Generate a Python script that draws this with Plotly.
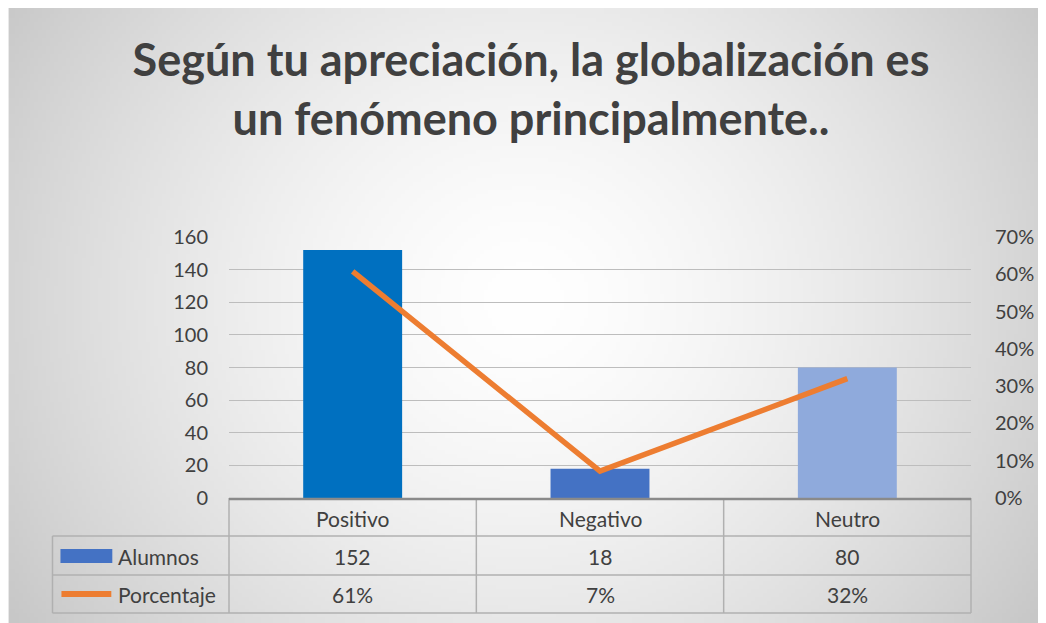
import base64, struct, zlib
import numpy as np
import plotly.graph_objects as go

# ---------------- data ----------------
categories = ["Positivo", "Negativo", "Neutro"]
alumnos = [152, 18, 80]
porcentaje = [0.608, 0.072, 0.32]
porcentaje_labels = ["61%", "7%", "32%"]
bar_colors = ["#0070C0", "#4472C4", "#8FAADC"]
title_text = "Según tu apreciación, la globalización es<br>un fenómeno principalmente.."
series_names = ["Alumnos", "Porcentaje"]

SW, SH = 1046, 623          # screen size
OFF = 8                     # page body margin
W, H = SW - OFF, SH - OFF
PL, PR, PT, PB = 229, 973, 237, 498   # plot area (screen pixels)
pw, ph = PR - PL, PB - PT

def px(x):
    return (x - PL) / pw

def py(y):
    return (PB - y) / ph

# ---------------- background radial gradient (png) ----------------
def make_png(arr):
    h, w = arr.shape
    raw = b"".join(b"\x00" + arr[i].tobytes() for i in range(h))
    def chunk(t, d):
        c = struct.pack(">I", len(d)) + t + d
        return c + struct.pack(">I", zlib.crc32(t + d) & 0xFFFFFFFF)
    png = b"\x89PNG\r\n\x1a\n"
    png += chunk(b"IHDR", struct.pack(">IIBBBBB", w, h, 8, 0, 0, 0, 0))
    png += chunk(b"IDAT", zlib.compress(raw, 9))
    png += chunk(b"IEND", b"")
    return "data:image/png;base64," + base64.b64encode(png).decode()

gw, gh = 260, 154
bx0, by0 = OFF, OFF
gx = bx0 + (np.arange(gw) + 0.5) * (SW - bx0) / gw
gy = by0 + (np.arange(gh) + 0.5) * (SH - by0) / gh
XX, YY = np.meshgrid(gx, gy)
d = np.sqrt(((XX - 525) / 614) ** 2 + ((YY - 300) / 570) ** 2)
val = 255 - 55 * np.clip(d, 0, 1.2) ** 1.5
grad = make_png(np.clip(val, 0, 255).astype(np.uint8))

fig = go.Figure()
fig.add_trace(go.Bar(x=categories, y=alumnos, marker=dict(color=bar_colors, line=dict(width=0)),
                     width=0.4, name=series_names[0], hoverinfo="skip"))
fig.add_trace(go.Scatter(x=categories, y=porcentaje, yaxis="y2", mode="lines",
                         line=dict(color="#ED7D31", width=5.5), name=series_names[1],
                         hoverinfo="skip"))

shapes = []
grid_col = "#BDBDBD"
tab_col = "#B0B0B0"
# table lines
for yy, x0 in [(536, 52), (575, 52), (613, 52)]:
    shapes.append(dict(type="line", xref="paper", yref="paper", x0=px(x0), x1=px(PR),
                       y0=py(yy), y1=py(yy), line=dict(color=tab_col, width=1.5), layer="above"))
for xx in [PL, PL + pw / 3, PL + 2 * pw / 3, PR]:
    shapes.append(dict(type="line", xref="paper", yref="paper", x0=px(xx), x1=px(xx),
                       y0=py(PB), y1=py(613), line=dict(color=tab_col, width=1.5), layer="above"))
shapes.append(dict(type="line", xref="paper", yref="paper", x0=px(52), x1=px(52),
                   y0=py(536), y1=py(613), line=dict(color=tab_col, width=1.5), layer="above"))
# axis / table top line
shapes.append(dict(type="line", xref="paper", yref="paper", x0=0, x1=1, y0=py(499), y1=py(499),
                   line=dict(color="#8A8A8A", width=2.5), layer="above"))
# legend keys
shapes.append(dict(type="rect", xref="paper", yref="paper", x0=px(60), x1=px(112),
                   y0=py(549), y1=py(563), fillcolor="#4472C4", line=dict(width=0), layer="above"))
shapes.append(dict(type="line", xref="paper", yref="paper", x0=px(61), x1=px(111),
                   y0=py(594), y1=py(594), line=dict(color="#ED7D31", width=6), layer="above"))

font_fam = "Lato, 'Open Sans', sans-serif"
txt_col = "#404040"
tfont = dict(size=20, color=txt_col, family=font_fam)
cfont = dict(size=21, color=txt_col, family=font_fam)
ann = []
for i, c in enumerate(categories):
    for yy, t in [(518, c), (556, str(alumnos[i])), (594, porcentaje_labels[i])]:
        ann.append(dict(x=c, xref="x", y=py(yy), yref="paper", text=t, showarrow=False,
                        xanchor="center", yanchor="middle", font=cfont))
for yy, t in [(556, series_names[0]), (594, series_names[1])]:
    ann.append(dict(x=px(116), xref="paper", y=py(yy), yref="paper", text=t,
                    showarrow=False, xanchor="left", yanchor="middle", font=cfont))

fig.update_layout(
    width=W, height=H,
    margin=dict(l=PL - OFF, r=SW - PR, t=PT - OFF, b=SH - PB, pad=0),
    paper_bgcolor="white", plot_bgcolor="rgba(0,0,0,0)",
    showlegend=False,
    title=dict(text=title_text, x=(531 - OFF) / W, xanchor="center", y=1 - (76 - OFF) / H,
               yanchor="middle",
               font=dict(size=45, color=txt_col, family="Lato, sans-serif", weight="bold")),
    xaxis=dict(showticklabels=False, showgrid=False, zeroline=False, showline=False,
               range=[-0.5, 2.5], fixedrange=True),
    yaxis=dict(range=[0, 160], dtick=20, showgrid=True, gridcolor=grid_col, gridwidth=1.2,
               zeroline=False, showline=False, ticks="", ticklabelstandoff=20,
               tickfont=tfont),
    yaxis2=dict(range=[0, 0.7], dtick=0.1, tickformat=".0%", overlaying="y", side="right",
                showgrid=False, zeroline=False, showline=False, ticks="", ticklabelstandoff=23,
                tickfont=tfont),
    shapes=shapes, annotations=ann,
    images=[dict(source=grad, xref="paper", yref="paper", x=px(bx0), y=py(by0),
                 sizex=(SW - bx0) / pw, sizey=(SH - by0) / ph, xanchor="left", yanchor="top",
                 sizing="stretch", layer="below")],
)

fig.write_html("out.html")
